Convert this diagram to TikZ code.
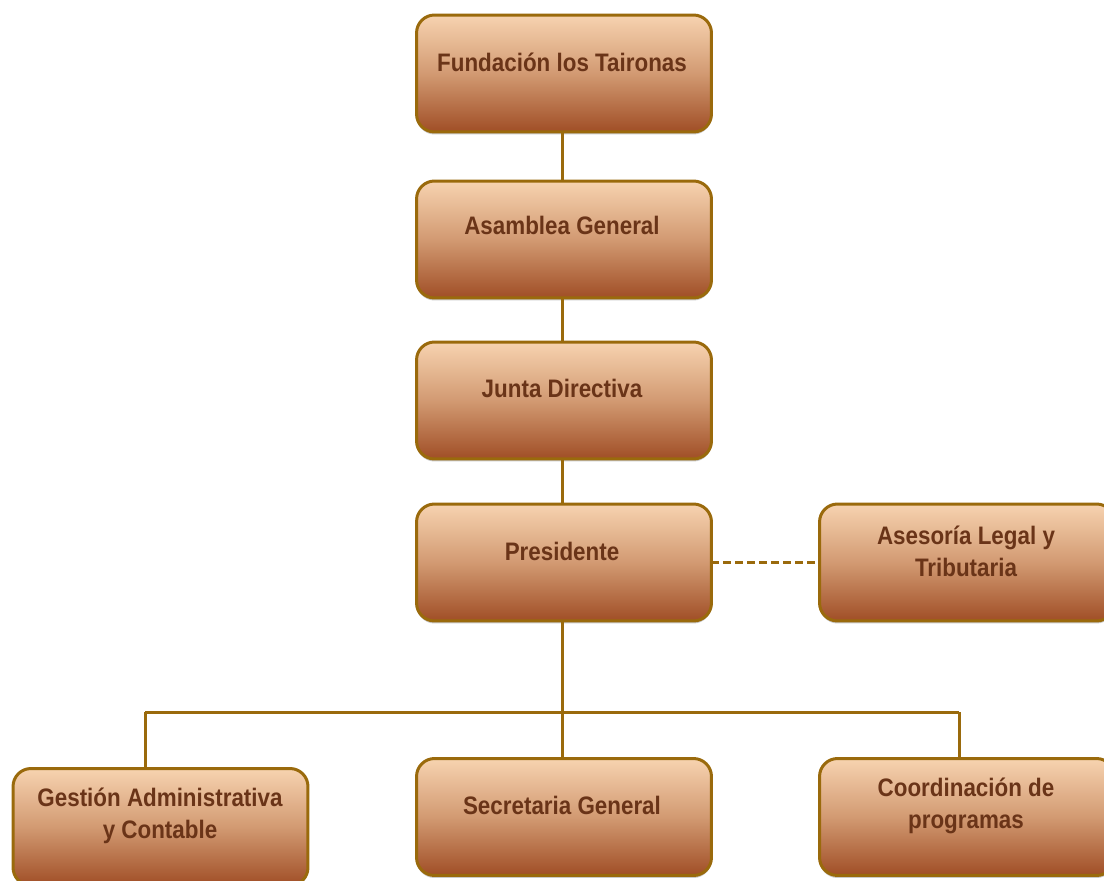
\documentclass[tikz,border=0pt]{standalone}
\usepackage{fontspec}
\setmainfont[FakeStretch=0.885]{Liberation Sans}
\usetikzlibrary{shadows}
\definecolor{bordc}{HTML}{9A6A0C}
\definecolor{topc}{HTML}{F7D3B0}
\definecolor{midc}{HTML}{D29A72}
\definecolor{botc}{HTML}{A04E26}
\definecolor{txtc}{HTML}{6A3418}
\tikzset{
  orgbox/.style={draw=bordc, line width=0.06cm, rounded corners=0.36cm,
    top color=topc, bottom color=botc, middle color=midc,
    minimum width=5.9cm, minimum height=2.34cm, inner sep=0pt, outer sep=0pt,
    drop shadow={shadow xshift=0pt, shadow yshift=-0.05cm, opacity=0.35, fill=black!60}},
  orgtxt/.style={text=txtc, font=\fontsize{14.4}{18.2}\selectfont\bfseries, align=center, inner sep=0pt},
  conn/.style={draw=bordc, line width=0.06cm},
}
\begin{document}
\begin{tikzpicture}[x=0.02cm, y=-0.02cm]
\useasboundingbox (0,0) rectangle (1104,881);
\clip (0,0) rectangle (1104,881);
% boxes
\node[orgbox] (F) at (564,73.5) {};
\node[orgbox] (A) at (564,239.5) {};
\node[orgbox] (J) at (564,400.5) {};
\node[orgbox] (P) at (564,562.5) {};
\node[orgbox] (L) at (967,562.5) {};
\node[orgbox] (G) at (160.5,827) {};
\node[orgbox] (S) at (564,817) {};
\node[orgbox] (C) at (967,817) {};
% texts
\node[orgtxt] (tF) at (562,62) {Fundación los Taironas};
\node[orgtxt] (tA) at (562,225) {Asamblea General};
\node[orgtxt] (tJ) at (562,388) {Junta Directiva};
\node[orgtxt] (tP) at (562,551) {Presidente};
\node[orgtxt] (tL) at (966,551) {Asesoría Legal y\\Tributaria};
\node[orgtxt] (tG) at (160,816) {Gestión Administrativa\\y Contable};
\node[orgtxt] (tS) at (562,805) {Secretaria General};
\node[orgtxt] (tC) at (966,806) {Coordinación de\\programas};
% connectors
\coordinate (bus) at (562,712);
\coordinate (busL) at (145,712);
\coordinate (busR) at (959,712);
\draw[conn] (F.south -| tF) -- (A.north -| tF);
\draw[conn] (A.south -| tF) -- (J.north -| tF);
\draw[conn] (J.south -| tF) -- (P.north -| tF);
\draw[conn] (P.south -| tF) -- (bus);
\draw[conn] (busL) -- (busR);
\draw[conn] (busL) -- (busL |- G.north);
\draw[conn] (bus) -- (bus |- S.north);
\draw[conn] (busR) -- (busR |- C.north);
\draw[conn, dash pattern=on 0.16cm off 0.08cm] (P.east) -- (L.west);
\end{tikzpicture}
\end{document}
